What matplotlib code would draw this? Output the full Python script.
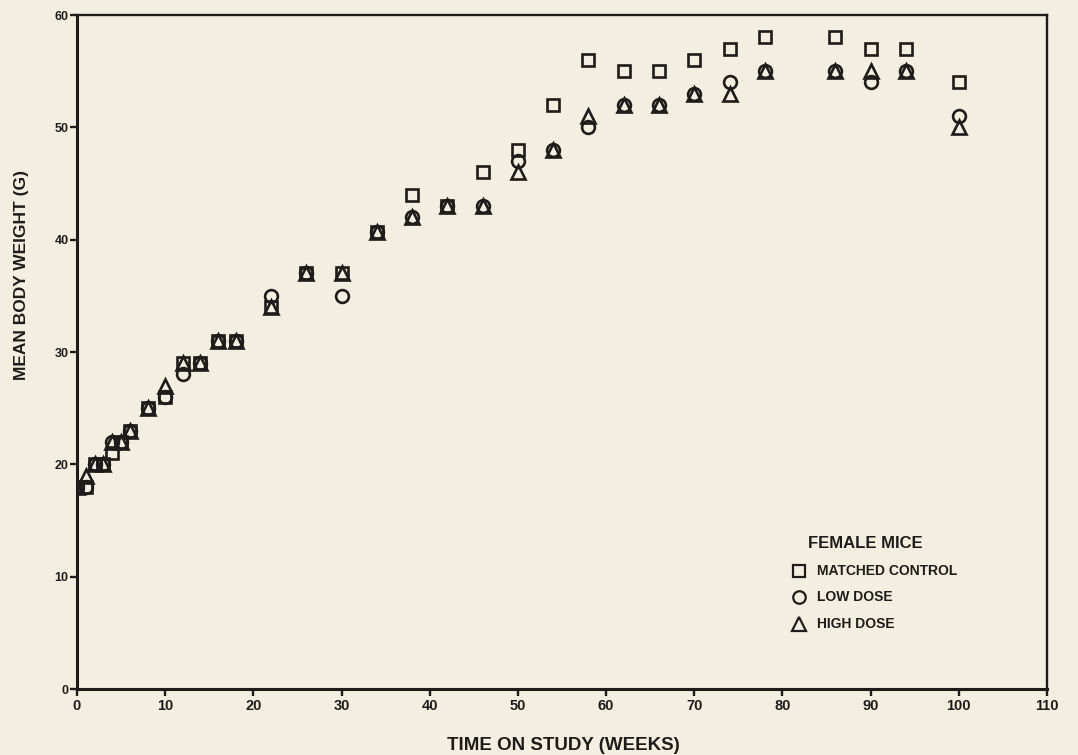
import matplotlib
matplotlib.use("Agg")
import matplotlib.pyplot as plt

# Mean body weight of female mice over the study period
weeks = [0, 1, 2, 3, 4, 5, 6, 8, 10, 12, 14, 16, 18, 22, 26, 30, 34, 38, 42,
         46, 50, 54, 58, 62, 66, 70, 74, 78, 86, 90, 94, 100]
matched_control = [18, 18, 20, 20, 21, 22, 23, 25, 26, 29, 29, 31, 31, 34, 37, 37,
                   40.7, 44, 43, 46, 48, 52, 56, 55, 55, 56, 57, 58, 58, 57, 57, 54]
low_dose = [18, 18, 20, 20, 22, 22, 23, 25, 26, 28, 29, 31, 31, 35, 37, 35,
            40.7, 42, 43, 43, 47, 48, 50, 52, 52, 53, 54, 55, 55, 54, 55, 51]
high_dose = [18, 19, 20, 20, 22, 22, 23, 25, 27, 29, 29, 31, 31, 34, 37, 37,
             40.7, 42, 43, 43, 46, 48, 51, 52, 52, 53, 53, 55, 55, 55, 55, 50]

x_ticks = [0, 10, 20, 30, 40, 50, 60, 70, 80, 90, 100, 110]
y_ticks = [0, 10, 20, 30, 40, 50, 60]

series_labels = ["MATCHED CONTROL", "LOW DOSE", "HIGH DOSE"]
legend_title = "FEMALE MICE"

BG = "#f3efe0"
INK = "#1e1c1a"
SANS = ["Liberation Sans", "DejaVu Sans"]

fig = plt.figure(figsize=(10.78, 7.55), dpi=100, facecolor=BG)
ax = fig.add_axes([0.0714, 0.0874, 0.8999, 0.8927], facecolor=BG)

mk = dict(linestyle="none", markerfacecolor="none", markeredgecolor=INK,
          markeredgewidth=1.9, zorder=3)
ax.plot(weeks, matched_control, marker="s", markersize=9.2, **mk)
ax.plot(weeks, low_dose, marker="o", markersize=9.2, **mk)
ax.plot(weeks, high_dose, marker="^", markersize=10.2, **mk)

ax.set_xlim(0, 110)
ax.set_ylim(0, 60)
ax.set_xticks(x_ticks)
ax.set_yticks(y_ticks)

for side in ["left", "bottom"]:
    ax.spines[side].set_linewidth(2.2)
for side in ["top", "right"]:
    ax.spines[side].set_linewidth(1.7)
for sp in ax.spines.values():
    sp.set_color(INK)

ax.tick_params(axis="both", direction="out", length=5, width=1.7, color=INK)
ax.tick_params(axis="x", pad=2)
ax.tick_params(axis="y", pad=1)

for lbl in ax.get_xticklabels():
    lbl.set_fontfamily(["Liberation Sans Narrow"] + SANS)
    lbl.set_fontweight("bold")
    lbl.set_fontsize(10.5)
    lbl.set_color(INK)
for lbl in ax.get_yticklabels():
    lbl.set_fontfamily(SANS)
    lbl.set_fontweight("bold")
    lbl.set_fontsize(9)
    lbl.set_color(INK)

fig.text(563 / 1078, 1 - 745 / 755, "TIME ON STUDY (WEEKS)", ha="center", va="center",
         fontsize=13.5, fontweight="bold", color=INK, family=SANS)
fig.text(22 / 1078, 1 - 275 / 755, "MEAN BODY WEIGHT (G)", ha="center", va="center",
         rotation=90, fontsize=12.5, fontweight="bold", color=INK, family=SANS)

# Key in the lower right of the plot area
ax.text(0.7536, 0.2166, legend_title, transform=ax.transAxes, ha="left", va="center",
        fontsize=12, fontweight="bold", color=INK, family=SANS)
key_rows = [0.175, 0.1365, 0.0964]
key_markers = [("s", 9), ("o", 9), ("^", 10)]
for yk, (m, ms), label in zip(key_rows, key_markers, series_labels):
    ax.plot([0.7443], [yk], transform=ax.transAxes, marker=m, markersize=ms,
            linestyle="none", markerfacecolor="none", markeredgecolor=INK,
            markeredgewidth=1.6, clip_on=False)
    ax.text(0.763, yk, label, transform=ax.transAxes, ha="left", va="center",
            fontsize=10, fontweight="bold", color=INK, family=SANS)

fig.savefig("out.png", dpi=100, facecolor=BG)
